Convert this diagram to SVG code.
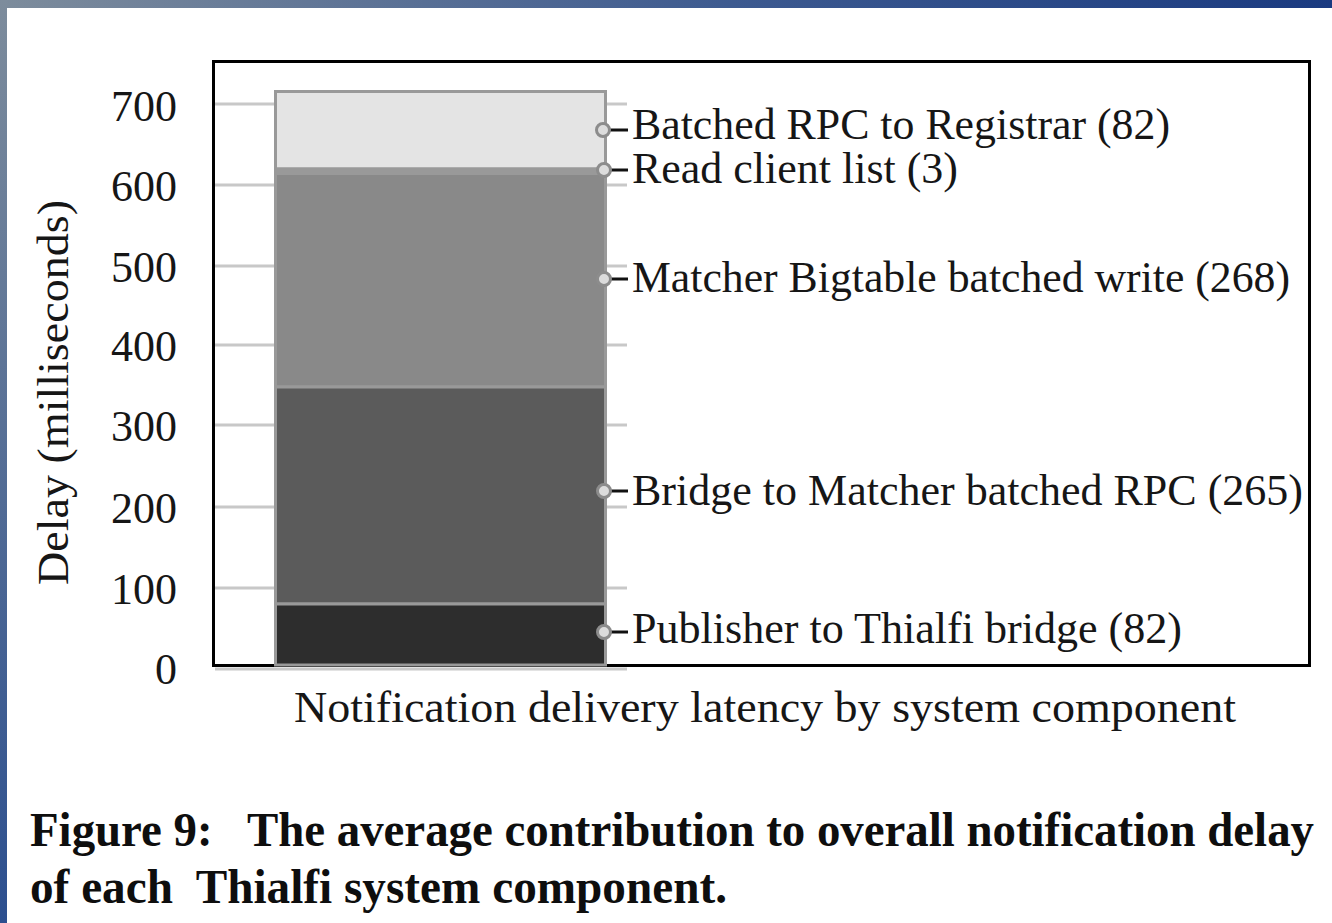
<svg xmlns="http://www.w3.org/2000/svg" width="1332" height="923" viewBox="0 0 1332 923">
  <style>
    .txt { font-family: "Liberation Serif", "Times New Roman", serif; fill: #161616; }
    .tick { font-size: 44px; text-anchor: end; }
    .lbl { font-size: 44px; }
    .cap { font-size: 48px; font-weight: bold; fill: #0e0e0e; }
    .grid { stroke: #c8c8c8; stroke-width: 3; }
    .seg { stroke: #999999; stroke-width: 3; }
    .dot { fill: #dcdcdc; stroke: #8c8c8c; stroke-width: 3; }
    .lead { stroke: #111111; stroke-width: 3; }
  </style>
  <defs>
    <linearGradient id="topBand" x1="0" y1="0" x2="1" y2="0">
      <stop offset="0" stop-color="#7d8c9c"/>
      <stop offset="0.55" stop-color="#3d5a90"/>
      <stop offset="1" stop-color="#1a3a80"/>
    </linearGradient>
    <linearGradient id="leftBand" x1="0" y1="0" x2="0" y2="1">
      <stop offset="0" stop-color="#7d8c9c"/>
      <stop offset="1" stop-color="#2c4f8f"/>
    </linearGradient>
  </defs>

  <!-- page background and frame bands -->
  <rect x="0" y="0" width="1332" height="923" fill="#ffffff"/>
  <rect x="0" y="0" width="1332" height="8" fill="url(#topBand)"/>
  <rect x="0" y="0" width="7" height="923" fill="url(#leftBand)"/>

  <!-- gridlines: left of the bar and short ticks right of it -->
  <g id="gridlines">
    <line class="grid" x1="215" y1="104" x2="275" y2="104"/>
    <line class="grid" x1="215" y1="185" x2="275" y2="185"/>
    <line class="grid" x1="215" y1="266" x2="275" y2="266"/>
    <line class="grid" x1="215" y1="345" x2="275" y2="345"/>
    <line class="grid" x1="215" y1="425" x2="275" y2="425"/>
    <line class="grid" x1="215" y1="507" x2="275" y2="507"/>
    <line class="grid" x1="215" y1="588" x2="275" y2="588"/>
    <line class="grid" x1="607" y1="104" x2="627" y2="104"/>
    <line class="grid" x1="607" y1="185" x2="627" y2="185"/>
    <line class="grid" x1="607" y1="266" x2="627" y2="266"/>
    <line class="grid" x1="607" y1="345" x2="627" y2="345"/>
    <line class="grid" x1="607" y1="425" x2="627" y2="425"/>
    <line class="grid" x1="607" y1="507" x2="627" y2="507"/>
    <line class="grid" x1="607" y1="588" x2="627" y2="588"/>
    <line class="grid" x1="215" y1="669" x2="627" y2="669"/>
  </g>

  <!-- plot frame -->
  <rect id="plot-frame" x="213.5" y="61.5" width="1096" height="604" fill="none" stroke="#000000" stroke-width="3"/>

  <!-- stacked bar -->
  <g id="bar">
    <rect id="seg-registrar" class="seg" x="275.5" y="91.5" width="330" height="77.5" fill="#e4e4e4"/>
    <rect id="seg-readlist" class="seg" x="275.5" y="169" width="330" height="4.5" fill="#999999"/>
    <rect id="seg-matcher" class="seg" x="275.5" y="173.5" width="330" height="213.5" fill="#898989"/>
    <rect id="seg-bridge" class="seg" x="275.5" y="387" width="330" height="217" fill="#5b5b5b"/>
    <rect id="seg-publisher" class="seg" x="275.5" y="604" width="330" height="61" fill="#2d2d2d"/>
  </g>

  <!-- y axis tick labels -->
  <g id="y-ticks" class="txt tick">
    <text x="177" y="121">700</text>
    <text x="177" y="201">600</text>
    <text x="177" y="282">500</text>
    <text x="177" y="361">400</text>
    <text x="177" y="441">300</text>
    <text x="177" y="523">200</text>
    <text x="177" y="604">100</text>
    <text x="177" y="684">0</text>
  </g>

  <!-- axis titles -->
  <g id="y-title">
    <text class="txt lbl" transform="translate(68 585) rotate(-90)" textLength="385" lengthAdjust="spacingAndGlyphs">Delay (milliseconds)</text>
  </g>
  <g id="x-title">
    <text class="txt lbl" x="294" y="722" textLength="942" lengthAdjust="spacingAndGlyphs">Notification delivery latency by system component</text>
  </g>

  <!-- leader lines from segment markers to their labels -->
  <g id="connectors">
    <line class="lead" x1="610" y1="130" x2="628" y2="130"/>
    <line class="lead" x1="610" y1="170" x2="628" y2="170"/>
    <line class="lead" x1="610" y1="279" x2="628" y2="279"/>
    <line class="lead" x1="610" y1="491" x2="628" y2="491"/>
    <line class="lead" x1="610" y1="632" x2="628" y2="632"/>
  </g>

  <!-- segment labels -->
  <g id="label-registrar">
    <circle class="dot" cx="603" cy="130" r="6.5"/>
    <text class="txt lbl" x="632" y="139" textLength="538" lengthAdjust="spacingAndGlyphs">Batched RPC to Registrar (82)</text>
  </g>
  <g id="label-readlist">
    <circle class="dot" cx="604" cy="170" r="6.5"/>
    <text class="txt lbl" x="632" y="183" textLength="326" lengthAdjust="spacingAndGlyphs">Read client list (3)</text>
  </g>
  <g id="label-matcher">
    <circle class="dot" cx="604" cy="279" r="6.5"/>
    <text class="txt lbl" x="632" y="292" textLength="658" lengthAdjust="spacingAndGlyphs">Matcher Bigtable batched write (268)</text>
  </g>
  <g id="label-bridge">
    <circle class="dot" cx="604" cy="491" r="6.5"/>
    <text class="txt lbl" x="632" y="505" textLength="671" lengthAdjust="spacingAndGlyphs">Bridge to Matcher batched RPC (265)</text>
  </g>
  <g id="label-publisher">
    <circle class="dot" cx="604" cy="632" r="6.5"/>
    <text class="txt lbl" x="632" y="643" textLength="550" lengthAdjust="spacingAndGlyphs">Publisher to Thialfi bridge (82)</text>
  </g>

  <!-- figure caption -->
  <g id="caption" class="txt cap">
    <text x="30" y="846" xml:space="preserve" textLength="1284" lengthAdjust="spacingAndGlyphs">Figure 9:   The average contribution to overall notification delay</text>
    <text x="30" y="903" xml:space="preserve" textLength="697" lengthAdjust="spacingAndGlyphs">of each  Thialfi system component.</text>
  </g>
</svg>
